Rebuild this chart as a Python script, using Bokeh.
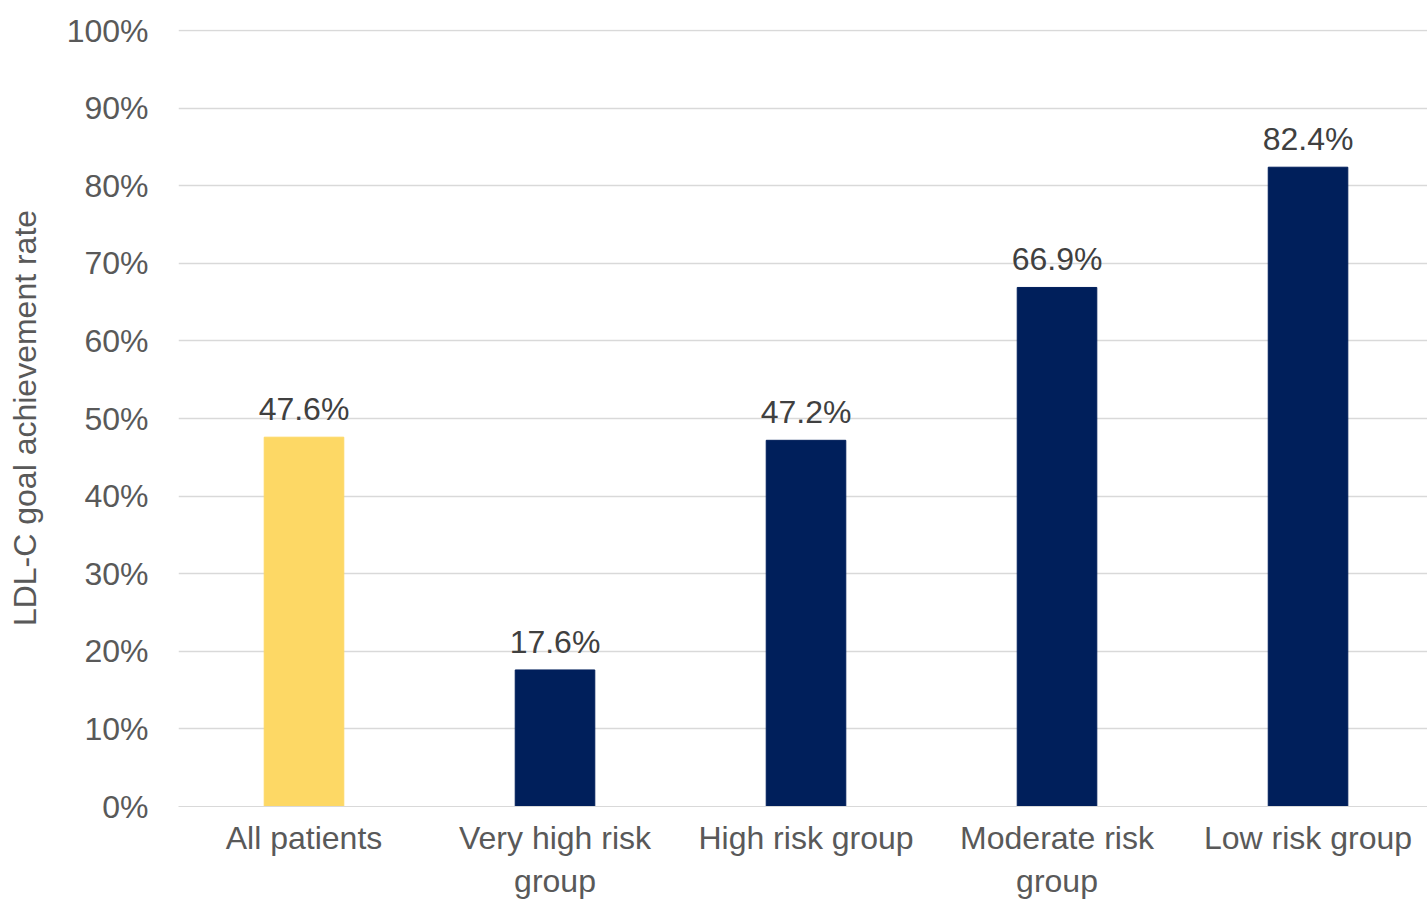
from bokeh.plotting import figure
from bokeh.models import ColumnDataSource, Range1d, FixedTicker, PrintfTickFormatter, LabelSet
from bokeh.core.properties import value
from bokeh.embed import file_html
from bokeh.resources import INLINE

# LDL-C goal achievement by risk group
categories = ["All patients", "Very high risk\ngroup", "High risk group", "Moderate risk\ngroup", "Low risk group"]
rates = [47.6, 17.6, 47.2, 66.9, 82.4]
y_ticks = [0, 10, 20, 30, 40, 50, 60, 70, 80, 90, 100]

YELLOW = "#FDD865"
NAVY = "#001F5B"
colors = [YELLOW] + [NAVY] * (len(categories) - 1)

FONT = "Liberation Sans"

xs = list(range(len(categories)))
src = ColumnDataSource(dict(
    x=xs,
    rate=rates,
    color=colors,
    label=[f"{r:.1f}%" for r in rates],
))

p = figure(
    width=1427, height=901,
    x_range=Range1d(-0.5, 4.476),
    y_range=Range1d(0, 100.15),
    output_backend="svg", toolbar_location=None,
    min_border_left=178, min_border_right=0,
    min_border_top=29, min_border_bottom=95,
)
p.outline_line_color = None
p.background_fill_color = "white"
p.border_fill_color = "white"

p.vbar(x="x", top="rate", width=0.317, color="color", source=src)

p.add_layout(LabelSet(
    x="x", y="rate", text="label", source=src,
    text_align="center", text_baseline="alphabetic", y_offset=17,
    text_font=value(FONT), text_font_size="32px", text_color="#404040",
))

# y axis
p.yaxis.ticker = FixedTicker(ticks=y_ticks)
p.yaxis.formatter = PrintfTickFormatter(format="%d%%")
p.yaxis.axis_label = "LDL-C goal achievement rate"
p.yaxis.axis_label_text_font = FONT
p.yaxis.axis_label_text_font_size = "32px"
p.yaxis.axis_label_text_font_style = "normal"
p.yaxis.axis_label_text_color = "#595959"
p.yaxis.axis_label_standoff = 21
p.yaxis.major_label_text_font = FONT
p.yaxis.major_label_text_font_size = "32px"
p.yaxis.major_label_text_color = "#595959"
p.yaxis.major_label_standoff = 24
p.yaxis.axis_line_color = None
p.yaxis.major_tick_line_color = None
p.yaxis.minor_tick_line_color = None

# x axis
p.xaxis.ticker = FixedTicker(ticks=xs)
p.xaxis.major_label_overrides = {i: c for i, c in enumerate(categories)}
p.xaxis.major_label_text_font = FONT
p.xaxis.major_label_text_font_size = "32px"
p.xaxis.major_label_text_color = "#595959"
p.xaxis.major_label_standoff = 7
p.xaxis.axis_line_color = "#D9D9D9"
p.xaxis.major_tick_line_color = None
p.xaxis.minor_tick_line_color = None

p.xgrid.grid_line_color = None
p.ygrid.grid_line_color = "#D9D9D9"
p.ygrid.grid_line_width = 1.5

open("out.html", "w").write(file_html(p, INLINE))
